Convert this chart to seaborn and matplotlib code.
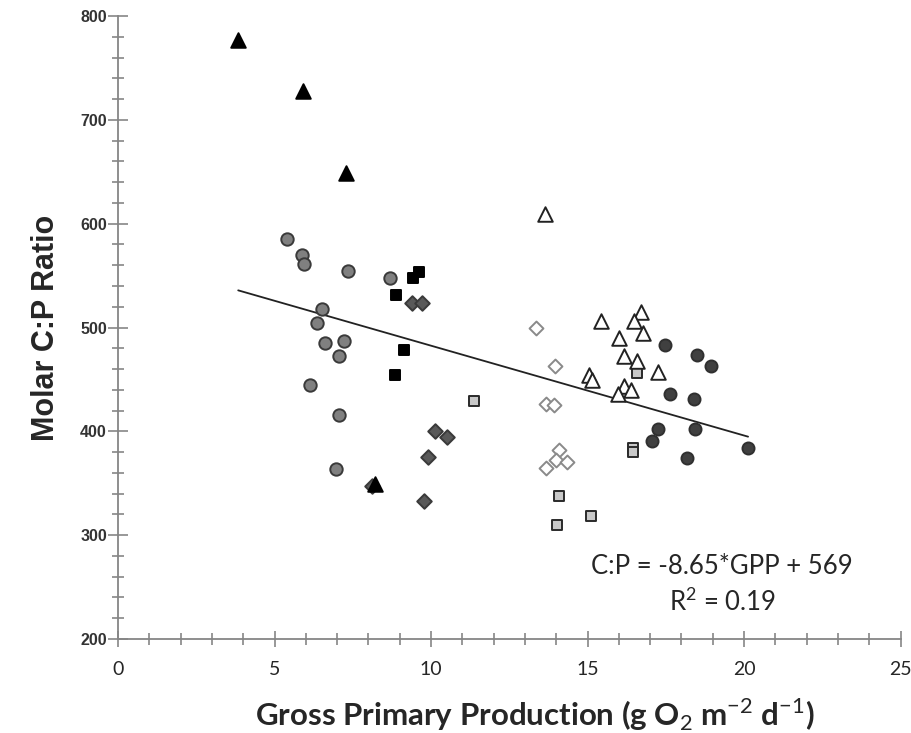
import numpy as np
import pandas as pd
import seaborn as sns
import matplotlib.pyplot as plt
from matplotlib.ticker import MultipleLocator

sns.set_style('white')
plt.rcParams['mathtext.fontset'] = 'custom'
plt.rcParams['mathtext.rm'] = 'Lato'
plt.rcParams['mathtext.bf'] = 'Lato:bold'

# filled black triangles
tri_black_x = [3.84, 5.91, 7.29, 8.22]
tri_black_y = [777, 728, 649, 349]

# medium gray circles
circ_gray_x = [5.39, 5.87, 5.93, 7.35, 8.69, 6.52, 6.37, 6.62, 7.23, 7.06, 6.12, 7.07, 6.97]
circ_gray_y = [585, 570, 561, 554, 548, 518, 504, 485, 487, 473, 445, 416, 364]

# black squares
sq_black_x = [9.63, 9.42, 8.89, 9.13, 8.85]
sq_black_y = [553, 548, 531, 478, 454]

# dark gray diamonds
dia_dark_x = [9.40, 9.72, 10.14, 10.50, 9.90, 9.79, 8.11]
dia_dark_y = [524, 524, 400, 395, 375, 333, 347]

# light gray squares
sq_light_x = [11.36, 14.08, 14.02, 15.11, 16.59, 16.44, 16.44]
sq_light_y = [429, 338, 310, 318, 456, 384, 380]

# open diamonds
dia_open_x = [13.67, 13.94, 14.10, 13.99, 14.34, 13.68, 13.35, 13.95]
dia_open_y = [426, 425, 382, 372, 370, 365, 500, 463]

# open triangles
tri_open_x = [13.65, 15.43, 16.71, 16.47, 16.76, 16.02, 16.18, 16.57, 17.25, 15.04, 15.14, 16.18, 16.38, 15.96]
tri_open_y = [609, 506, 515, 506, 495, 490, 473, 468, 457, 454, 449, 444, 440, 436]

# dark circles
circ_dark_x = [17.46, 18.49, 18.95, 17.64, 18.39, 17.25, 18.44, 17.06, 18.19, 20.13]
circ_dark_y = [483, 474, 463, 436, 431, 402, 402, 391, 374, 384]

slope = -8.65
intercept = 569
r2 = 0.19

groups = [
    (circ_gray_x, circ_gray_y, 'o', '#808080', '#3a3a3a', 80),
    (sq_black_x, sq_black_y, 's', '#000000', '#000000', 50),
    (dia_dark_x, dia_dark_y, 'D', '#595959', '#3a3a3a', 55),
    (sq_light_x, sq_light_y, 's', '#c8c8c8', '#2a2a2a', 42),
    (dia_open_x, dia_open_y, 'D', '#ffffff', '#8a8a8a', 50),
    (tri_open_x, tri_open_y, '^', '#ffffff', '#222222', 110),
    (circ_dark_x, circ_dark_y, 'o', '#404040', '#303030', 75),
    (tri_black_x, tri_black_y, '^', '#000000', '#000000', 110),
]

fig = plt.figure(figsize=(9.12, 7.33), dpi=100)
ax = fig.add_axes([0.1294, 0.1282, 0.858, 0.850])

for xs, ys, mk, fc, ec, s in groups:
    sns.scatterplot(x=xs, y=ys, marker=mk, color=fc, edgecolor=ec,
                    linewidth=1.4, s=s, ax=ax, zorder=3)

all_x = np.array(circ_gray_x + sq_black_x + dia_dark_x + sq_light_x + dia_open_x
                 + tri_open_x + circ_dark_x + tri_black_x)
line_x = np.array([all_x.min(), all_x.max()])
sns.lineplot(x=line_x, y=slope * line_x + intercept, color='#222222', linewidth=1.3, ax=ax)

ax.text(19.3, 270, f'C:P = {slope}*GPP + {intercept}', ha='center', va='center',
        fontsize=18.5, family='Lato')
ax.text(19.3, 236, f'R$^2$ = {r2}', ha='center', va='center', fontsize=18.5, family='Lato')

ax.set_xlim(0, 25)
ax.set_ylim(200, 800)
ax.xaxis.set_major_locator(MultipleLocator(5))
ax.xaxis.set_minor_locator(MultipleLocator(1))
ax.yaxis.set_major_locator(MultipleLocator(100))
ax.yaxis.set_minor_locator(MultipleLocator(20))

sns.despine(ax=ax)
for sp in ['left', 'bottom']:
    ax.spines[sp].set_color('#868686')
    ax.spines[sp].set_linewidth(1.3)
ax.tick_params(which='both', bottom=True, left=True, direction='inout',
               color='#868686', width=1.2)
ax.tick_params(which='major', length=12)
ax.tick_params(which='minor', length=8)
ax.tick_params(axis='y', which='major', length=14, pad=1)
ax.tick_params(axis='x', pad=10)

for lab in ax.get_yticklabels():
    lab.set_family('Liberation Sans')
    lab.set_fontsize(11.5)
    lab.set_fontweight('bold')
    lab.set_color('#333333')
for lab in ax.get_xticklabels():
    lab.set_family('Lato')
    lab.set_fontsize(14)

ax.set_xlabel('Gross Primary Production (g O$_2$ m$^{-2}$ d$^{-1}$)', fontsize=22.5,
              fontweight='bold', family='Lato')
ax.xaxis.set_label_coords(0.533, -0.092)
ax.set_ylabel('Molar C:P Ratio', fontsize=22, fontweight='bold',
              family='Liberation Sans', labelpad=14)

fig.savefig('out.png', dpi=100)
